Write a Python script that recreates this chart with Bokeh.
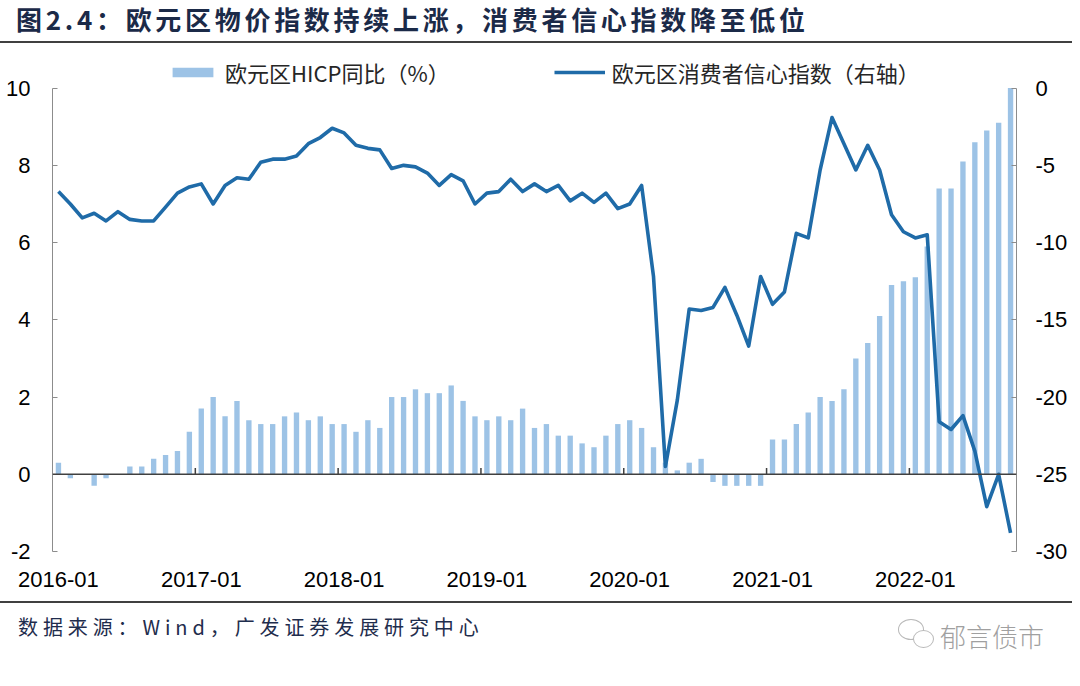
from bokeh.plotting import figure
from bokeh.models import (Range1d, LinearAxis, FixedTicker, Span, Legend,
                          LegendItem, Div, ColumnDataSource)
from bokeh.layouts import column
from bokeh.embed import file_html
from bokeh.resources import INLINE

# ---------------- data ----------------
months = ([f"2016-{m:02d}" for m in range(1, 13)] + [f"2017-{m:02d}" for m in range(1, 13)]
          + [f"2018-{m:02d}" for m in range(1, 13)] + [f"2019-{m:02d}" for m in range(1, 13)]
          + [f"2020-{m:02d}" for m in range(1, 13)] + [f"2021-{m:02d}" for m in range(1, 13)]
          + [f"2022-{m:02d}" for m in range(1, 10)])

hicp_yoy = [0.3, -0.1, 0.0, -0.3, -0.1, 0.0, 0.2, 0.2, 0.4, 0.5, 0.6, 1.1,
            1.7, 2.0, 1.5, 1.9, 1.4, 1.3, 1.3, 1.5, 1.6, 1.4, 1.5, 1.3,
            1.3, 1.1, 1.4, 1.2, 2.0, 2.0, 2.2, 2.1, 2.1, 2.3, 1.9, 1.5,
            1.4, 1.5, 1.4, 1.7, 1.2, 1.3, 1.0, 1.0, 0.8, 0.7, 1.0, 1.3,
            1.4, 1.2, 0.7, 0.3, 0.1, 0.3, 0.4, -0.2, -0.3, -0.3, -0.3, -0.3,
            0.9, 0.9, 1.3, 1.6, 2.0, 1.9, 2.2, 3.0, 3.4, 4.1, 4.9, 5.0,
            5.1, 5.9, 7.4, 7.4, 8.1, 8.6, 8.9, 9.1, 10.0]

confidence = [-6.7, -7.5, -8.4, -8.1, -8.6, -8.0, -8.5, -8.6, -8.6, -7.7, -6.8, -6.4,
              -6.2, -7.5, -6.3, -5.8, -5.9, -4.8, -4.6, -4.6, -4.4, -3.6, -3.2, -2.6,
              -2.9, -3.7, -3.9, -4.0, -5.2, -5.0, -5.1, -5.5, -6.3, -5.6, -6.0, -7.5,
              -6.8, -6.7, -5.9, -6.7, -6.2, -6.7, -6.3, -7.3, -6.8, -7.4, -6.8, -7.8,
              -7.5, -6.3, -12.2, -24.5, -20.2, -14.3, -14.4, -14.2, -12.9, -14.7, -16.7, -12.2,
              -14.0, -13.2, -9.4, -9.7, -5.3, -1.9, -3.6, -5.3, -3.7, -5.3, -8.2, -9.3,
              -9.7, -9.5, -21.6, -22.1, -21.2, -23.5, -27.1, -25.0, -28.8]

left_ticks = [-2, 0, 2, 4, 6, 8, 10]
right_ticks = [-30, -25, -20, -15, -10, -5, 0]

title_text = "图2.4：欧元区物价指数持续上涨，消费者信心指数降至低位"
source_text = "数据来源：Wind，广发证券发展研究中心"
watermark_text = "郁言债市"
bar_label = "欧元区HICP同比（%）"
line_label = "欧元区消费者信心指数（右轴）"

# ---------------- figure ----------------
idx = list(range(len(months)))
src = ColumnDataSource(dict(x=idx, hicp=hicp_yoy, conf=confidence))
year_idx = [i for i, m in enumerate(months) if m.endswith("-01")]
bounds = [i - 0.5 for i in year_idx if i > 0]

# headroom above the top tick so the legend sits inside the frame area
head = 1.0
ratio = (right_ticks[-1] - right_ticks[0]) / (left_ticks[-1] - left_ticks[0])

p = figure(width=1072, height=556, x_range=Range1d(-0.5, len(months) - 0.5),
           y_range=Range1d(left_ticks[0], left_ticks[-1] + head),
           output_backend="svg", toolbar_location=None,
           min_border_left=52, min_border_right=56, min_border_top=4, min_border_bottom=50,
           outline_line_color=None, background_fill_color="white")
p.extra_y_ranges = {"right": Range1d(right_ticks[0], right_ticks[-1] + head * ratio)}
p.grid.visible = False

bars = p.vbar(x="x", top="hicp", width=0.45, source=src,
              fill_color="#9DC3E6", line_color=None)
line = p.line(x="x", y="conf", source=src, y_range_name="right",
              line_color="#1F6BA8", line_width=3.6, line_join="round")

zero = Span(location=0, dimension="width", line_color="#404040", line_width=1.5)
p.add_layout(zero)
p.segment(x0=bounds, y0=[0] * len(bounds), x1=bounds, y1=[0.16] * len(bounds),
          line_color="#404040", line_width=1.5)

# left axis
ya = p.yaxis[0]
ya.ticker = FixedTicker(ticks=left_ticks)
ya.bounds = (left_ticks[0], left_ticks[-1])
ya.major_label_overrides = {t: str(t) for t in left_ticks}
ya.axis_line_color = "#8C8C8C"
ya.major_tick_line_color = "#8C8C8C"
ya.major_tick_in = 5
ya.major_tick_out = 0
ya.minor_tick_line_color = None
ya.major_label_text_font = "Liberation Sans"
ya.major_label_text_font_size = "22px"
ya.major_label_text_color = "#000000"
ya.major_label_standoff = 22

# right axis
ra = LinearAxis(y_range_name="right", ticker=FixedTicker(ticks=right_ticks),
                bounds=(right_ticks[0], right_ticks[-1]),
                major_label_overrides={t: str(t) for t in right_ticks})
ra.axis_line_color = "#8C8C8C"
ra.major_tick_line_color = "#8C8C8C"
ra.major_tick_in = 5
ra.major_tick_out = 0
ra.minor_tick_line_color = None
ra.major_label_text_font = "Liberation Sans"
ra.major_label_text_font_size = "22px"
ra.major_label_text_color = "#000000"
ra.major_label_standoff = 19
p.add_layout(ra, "right")

# bottom axis (labels only)
xa = p.xaxis[0]
xa.ticker = FixedTicker(ticks=year_idx)
xa.major_label_overrides = {i: months[i] for i in year_idx}
xa.axis_line_color = None
xa.major_tick_line_color = None
xa.minor_tick_line_color = None
xa.major_label_text_font = "Liberation Sans"
xa.major_label_text_font_size = "22px"
xa.major_label_text_color = "#000000"
xa.major_label_standoff = 14

legend = Legend(items=[LegendItem(label=bar_label, renderers=[bars]),
                       LegendItem(label=line_label, renderers=[line])],
                orientation="horizontal", location=(115, 463),
                glyph_width=51, glyph_height=12, label_height=26,
                label_standoff=7, spacing=104,
                padding=0, margin=0, border_line_color=None,
                background_fill_alpha=0,
                label_text_font="Noto Sans CJK SC", label_text_font_size="22px",
                label_text_color="#262626")
p.add_layout(legend)

# ---------------- title / source ----------------
title_div = Div(
    text=('<div style="position:relative;width:1072px;height:43px;'
          'border-bottom:2px solid #404040;">'
          '<div style="position:absolute;left:16px;top:0px;white-space:nowrap;'
          "font-family:'Noto Sans CJK SC';font-weight:bold;font-size:26px;"
          'letter-spacing:3.7px;line-height:38px;color:#1B2A48;">'
          + title_text + '</div></div>'),
    width=1072, height=45, margin=0)

source_div = Div(
    text=('<div style="position:relative;width:1072px;height:75px;'
          'border-top:2px solid #404040;">'
          '<div style="position:absolute;left:18px;top:11px;white-space:nowrap;'
          "font-family:'Noto Sans CJK SC';font-size:20px;letter-spacing:4.9px;"
          'line-height:26px;color:#1F2D4D;">' + source_text + '</div>'
          '<div style="position:absolute;left:898px;top:16px;width:26px;height:21px;'
          'border:1.5px solid #B8B8B8;border-radius:50%;background:white;"></div>'
          '<div style="position:absolute;left:913px;top:27px;width:21px;height:18px;'
          'border:1.5px solid #B8B8B8;border-radius:50%;background:white;"></div>'
          '<div style="position:absolute;left:940px;top:18px;white-space:nowrap;'
          "font-family:'Noto Sans CJK SC';font-size:26px;font-weight:300;"
          'line-height:30px;color:#A0A0A0;">' + watermark_text + '</div>'
          '</div>'),
    width=1072, height=77, margin=0)

layout = column(title_div, p, source_div, spacing=0)
open("out.html", "w").write(file_html(layout, INLINE))
